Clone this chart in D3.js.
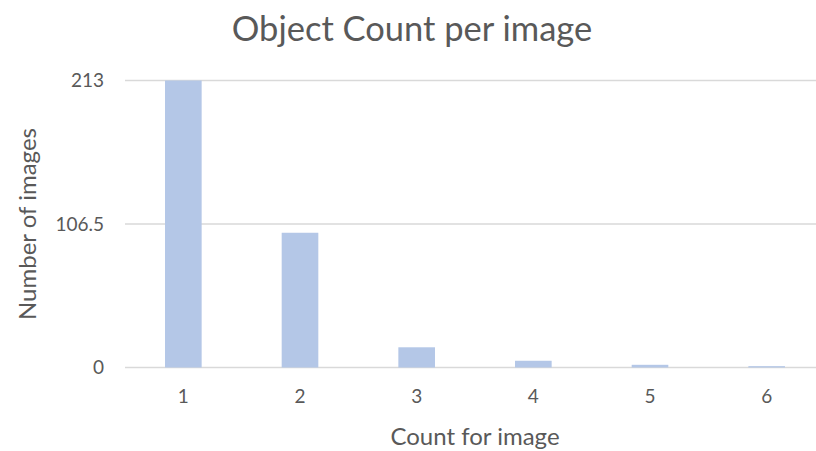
<!DOCTYPE html>
<html>
<head>
<meta charset="utf-8">
<script src="https://cdn.jsdelivr.net/npm/d3@7"></script>
<style>
  html, body { margin: 0; padding: 0; background: #ffffff; }
  svg { display: block; }
  text { font-family: Lato, "Open Sans", sans-serif; fill: #595959; }
</style>
</head>
<body>
<svg id="chart" width="816" height="451"></svg>
<script>
// Object counts per image
const categories = ["1", "2", "3", "4", "5", "6"];
const imageCounts = [213, 100, 15, 5, 2, 1];
const yTickValues = [0, 106.5, 213];
const yTickLabels = ["0", "106.5", "213"];

const width = 816, height = 451;
const margin = { left: 125, right: -9, top: 80.5, bottom: 83.5 };

const svg = d3.select("#chart");

const x = d3.scaleBand()
  .domain(categories)
  .range([margin.left, width - margin.right])
  .paddingInner(0.686)
  .paddingOuter(0.343);

const y = d3.scaleLinear()
  .domain([0, 213])
  .range([height - margin.bottom, margin.top]);

// Horizontal gridlines
svg.append("g")
  .selectAll("line")
  .data(yTickValues)
  .join("line")
  .attr("x1", margin.left)
  .attr("x2", width - margin.right)
  .attr("y1", d => y(d))
  .attr("y2", d => y(d))
  .attr("stroke", "#d9d9d9")
  .attr("stroke-width", 1.5);

// Bars
svg.append("g")
  .selectAll("rect")
  .data(imageCounts)
  .join("rect")
  .attr("x", (d, i) => x(categories[i]))
  .attr("width", x.bandwidth())
  .attr("y", d => y(d))
  .attr("height", d => y(0) - y(d))
  .attr("fill", "#b4c7e7");

// Y axis tick labels
const yAxis = d3.axisLeft(y)
  .tickValues(yTickValues)
  .tickFormat((d, i) => yTickLabels[i])
  .tickSize(0)
  .tickPadding(21);
const gy = svg.append("g")
  .attr("transform", `translate(${margin.left},0)`)
  .call(yAxis);
gy.select(".domain").remove();
gy.selectAll("text")
  .style("font-family", "Lato, 'Open Sans', sans-serif")
  .style("font-size", "19px")
  .attr("fill", "#595959");

// X axis tick labels
const xAxis = d3.axisBottom(x).tickSize(0).tickPadding(22);
const gx = svg.append("g")
  .attr("transform", `translate(0,${y(0)})`)
  .call(xAxis);
gx.select(".domain").remove();
gx.selectAll("text")
  .style("font-family", "Lato, 'Open Sans', sans-serif")
  .style("font-size", "19px")
  .attr("fill", "#595959");

// Chart title
svg.append("text")
  .attr("x", 412)
  .attr("y", 41)
  .attr("text-anchor", "middle")
  .style("font-size", "34.5px")
  .text("Object Count per image");

// Axis titles
svg.append("text")
  .attr("x", 475)
  .attr("y", 445)
  .attr("text-anchor", "middle")
  .style("font-size", "24px")
  .text("Count for image");

svg.append("text")
  .attr("transform", "translate(36,224) rotate(-90)")
  .attr("text-anchor", "middle")
  .style("font-size", "24px")
  .text("Number of images");
</script>
</body>
</html>
